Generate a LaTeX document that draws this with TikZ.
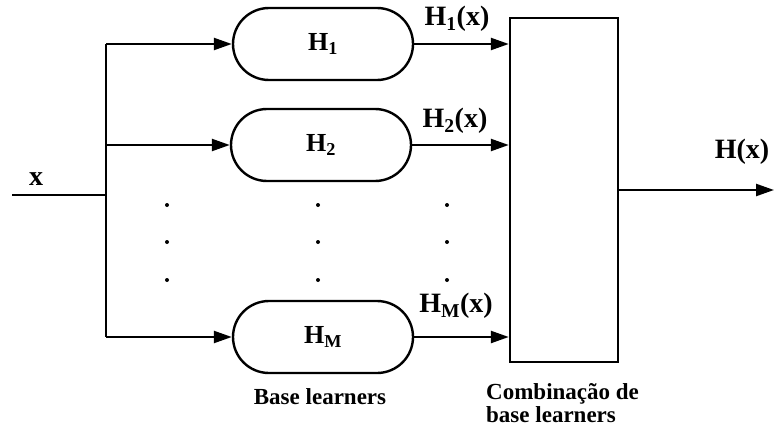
\documentclass[tikz,border=0pt]{standalone}
\usepackage{fontspec}
\setmainfont{Liberation Serif}
\usetikzlibrary{arrows.meta}
\begin{document}
\begin{tikzpicture}[x=1pt,y=-1pt,
  line width=2.4pt,
  learner/.style={draw, rectangle, rounded corners=36pt, minimum width=180pt, minimum height=72pt, inner sep=0pt, font=\fontsize{26}{28}\selectfont\bfseries},
  combo/.style={draw, rectangle, minimum width=108pt, minimum height=344pt, inner sep=0pt},
  arr/.style={-{Triangle[length=18pt,width=12pt]}},
  lbl/.style={font=\fontsize{28}{30}\selectfont\bfseries, inner sep=0pt},
  captext/.style={font=\fontsize{23}{23}\selectfont\bfseries, inner sep=0pt, align=left},
  dotmark/.style={circle, fill, inner sep=0pt, minimum size=4pt}
]
\useasboundingbox (0,0) rectangle (776,428);
\node[learner] (h1) at (323,44) {H\textsubscript{1}};
\node[learner] (h2) at (321,145) {H\textsubscript{2}};
\node[learner] (hm) at (323,337) {H\textsubscript{M}};
\node[combo] (c) at (564,190) {};
\coordinate (in) at (12,195);
\coordinate (j) at (106,195);
\coordinate (jt) at (106,44);
\coordinate (j2) at (106,145);
\coordinate (jb) at (106,337);
\coordinate (out) at (774,190);
\draw (in) -- (j);
\draw (jt) -- (jb);
\draw[arr] (jt) -- (h1.west);
\draw[arr] (j2) -- (h2.west);
\draw[arr] (jb) -- (hm.west);
\draw[arr] (h1.east) -- (h1.east -| c.west);
\draw[arr] (h2.east) -- (h2.east -| c.west);
\draw[arr] (hm.east) -- (hm.east -| c.west);
\draw[arr] (c.east |- out) -- (out);
\node[lbl] (lx) at (36,179) {x};
\node[lbl] (l1) at (457,19) {H\textsubscript{1}(x)};
\node[lbl] (l2) at (455,121) {H\textsubscript{2}(x)};
\node[lbl] (lm) at (456,306) {H\textsubscript{M}(x)};
\node[lbl] (lh) at (742,152) {H(x)};
\node[captext] (bl) at (320,397) {Base learners};
\node[captext, anchor=west] (cb) at (485,403) {Combinação de\\base learners};
\foreach \cx/\n in {167/a,318/b,447/c}
  \foreach \cy/\m in {205/1,242/2,280/3}
    \node[dotmark] (d\n\m) at (\cx,\cy) {};
\end{tikzpicture}
\end{document}
